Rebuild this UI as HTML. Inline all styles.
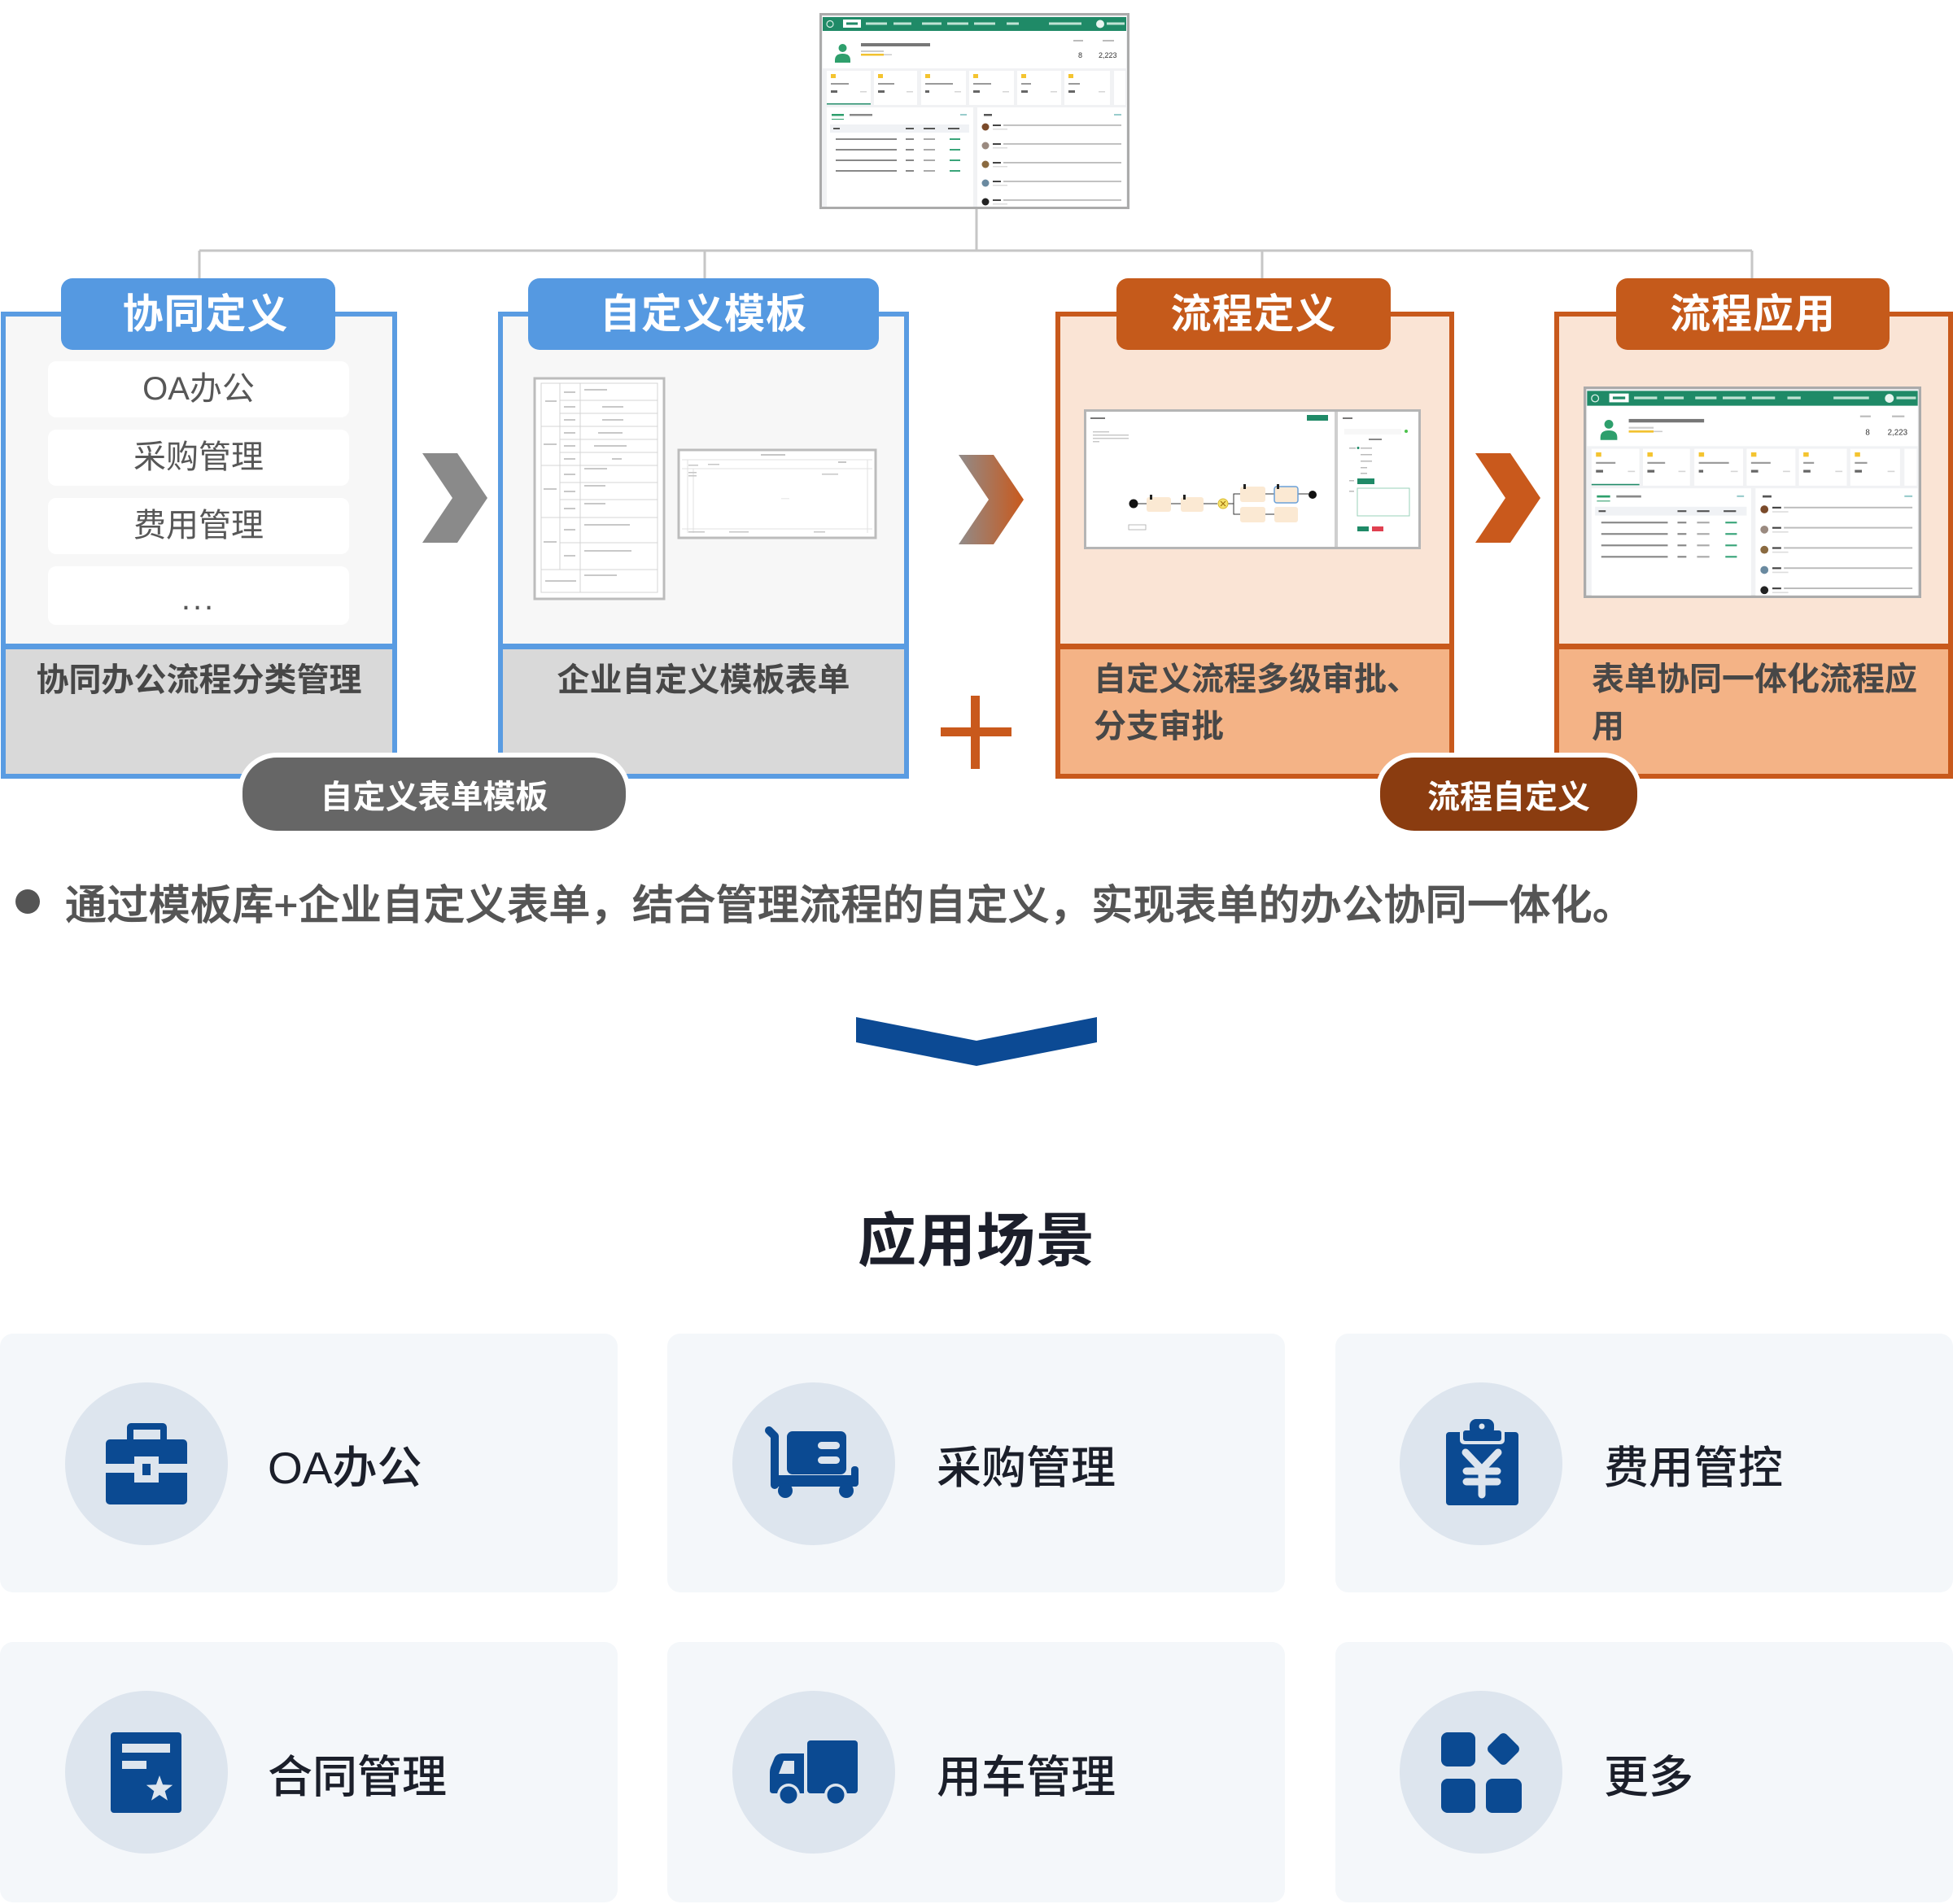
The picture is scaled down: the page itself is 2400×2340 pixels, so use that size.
<!DOCTYPE html>
<html><head><meta charset="utf-8">
<style>
*{margin:0;padding:0;box-sizing:border-box}
html,body{width:2400px;height:2340px;background:#fff;overflow:hidden}
body{position:relative;font-family:"Liberation Sans","Noto Sans CJK SC",sans-serif}
.box{position:absolute;top:383px;height:574px;border:6px solid}
.blue{border-color:#5a9ce2;background:#d9d9d9}
.org{border-color:#c8591c;background:#f4b386}
.up{position:absolute;left:0;right:0;top:0;height:409px;border-bottom:7px solid}
.blue .up{background:#f7f7f7;border-color:#5a9ce2}
.org .up{background:#fae4d5;border-color:#c8591c}
.tab{position:absolute;top:342px;height:88px;border-radius:14px;color:#fff;font-weight:bold;font-size:50px;line-height:88px;text-align:center;letter-spacing:1px}
.tb{background:#5599e1}
.to{background:#c55a1b}
.btxt{position:absolute;font-size:40px;font-weight:bold;color:#474747;line-height:58px;white-space:nowrap}
.item{position:absolute;left:59px;width:370px;height:69px;background:#fff;border-radius:10px;text-align:center;font-size:40px;line-height:69px;color:#575757}
.pill{position:absolute;top:925px;height:102px;border:6px solid #fff;border-radius:48px;color:#fff;font-weight:bold;font-size:40px;line-height:98px;text-align:center}
.card{position:absolute;height:318px;width:759px;background:#f4f7fa;border-radius:16px}
.ctxt{position:absolute;font-size:55px;font-weight:500;color:#1b1f2a;line-height:80px;white-space:nowrap}
svg.ov{position:absolute;left:0;top:0}
</style></head><body>

<!-- boxes -->
<div class="box blue" style="left:1px;width:487px"><div class="up"></div></div>
<div class="box blue" style="left:612px;width:505px"><div class="up"></div></div>
<div class="box org" style="left:1297px;width:490px"><div class="up"></div></div>
<div class="box org" style="left:1910px;width:490px"><div class="up"></div></div>

<!-- list items box1 -->
<div class="item" style="top:444px">OA办公</div>
<div class="item" style="top:528px">采购管理</div>
<div class="item" style="top:612px">费用管理</div>
<div class="item" style="top:696px;height:72px;line-height:80px;letter-spacing:3px">...</div>

<!-- cards -->
<div class="card" style="left:0;top:1639px"></div>
<div class="card" style="left:820px;top:1639px"></div>
<div class="card" style="left:1641px;top:1639px"></div>
<div class="card" style="left:0;top:2018px;height:320px"></div>
<div class="card" style="left:820px;top:2018px;height:320px"></div>
<div class="card" style="left:1641px;top:2018px;height:320px"></div>

<svg class="ov" width="2400" height="2340" viewBox="0 0 2400 2340" xmlns="http://www.w3.org/2000/svg">
<defs>
<linearGradient id="g1" x1="0" x2="1" y1="0" y2="0">
<stop offset="0" stop-color="#918b89"/><stop offset="1" stop-color="#c9591c"/>
</linearGradient>
<symbol id="dash" viewBox="0 0 381 241" preserveAspectRatio="none">
<rect x="1.5" y="1.5" width="378" height="238" fill="#f1f2f4" stroke="#ababab" stroke-width="3"/>
<rect x="4" y="5" width="373" height="17" fill="#1f8a67"/>
<circle cx="13" cy="13.5" r="4" fill="none" stroke="#d8efe6" stroke-width="1.2"/>
<rect x="29" y="8" width="22" height="10" fill="#fff"/>
<rect x="33" y="11.5" width="14" height="3" fill="#1f8a67"/>
<g fill="#bfe3d4">
<rect x="57" y="11.5" width="26" height="3"/><rect x="91" y="11.5" width="22" height="3"/>
<rect x="126" y="11.5" width="24" height="3"/><rect x="157" y="11.5" width="26" height="3"/>
<rect x="190" y="11.5" width="26" height="3"/><rect x="230" y="11.5" width="15" height="3"/>
<rect x="282" y="11.5" width="40" height="3"/><rect x="353" y="11.5" width="22" height="3"/>
</g>
<circle cx="345" cy="13.5" r="5" fill="#e9f5f0"/>
<rect x="4" y="22" width="373" height="46" fill="#fff"/>
<circle cx="28.5" cy="43" r="5" fill="#2e9f6c"/>
<path d="M19 58 q0-8 9.5-8 q9.5 0 9.5 8 v3 h-19z" fill="#2e9f6c"/>
<rect x="51" y="37" width="85" height="4" fill="#777"/>
<rect x="51" y="46" width="28" height="2" fill="#ccc"/>
<rect x="51" y="50" width="28" height="2.5" fill="#f2c230"/>
<rect x="79" y="50.5" width="10" height="1.5" fill="#ccc"/>
<rect x="312" y="33" width="12" height="2" fill="#bbb"/><rect x="348" y="33" width="14" height="2" fill="#bbb"/>
<text x="318" y="55" font-size="9" fill="#333" font-family="Liberation Sans">8</text>
<text x="343" y="55" font-size="9" fill="#333" font-family="Liberation Sans">2,223</text>
<g>
<rect x="9" y="71" width="54" height="42" fill="#fff"/><rect x="67" y="71" width="53" height="42" fill="#fff"/>
<rect x="125" y="71" width="55" height="42" fill="#fff"/><rect x="184" y="71" width="55" height="42" fill="#fff"/>
<rect x="243" y="71" width="54" height="42" fill="#fff"/><rect x="301" y="71" width="56" height="42" fill="#fff"/>
<rect x="362" y="71" width="14" height="42" fill="#fff"/>
</g>
<g fill="#f4c430">
<rect x="14" y="75" width="6" height="5"/><rect x="72" y="75" width="6" height="5"/><rect x="130" y="75" width="6" height="5"/>
<rect x="189" y="75" width="6" height="5"/><rect x="248" y="75" width="6" height="5"/><rect x="306" y="75" width="6" height="5"/>
</g>
<g fill="#999">
<rect x="14" y="86" width="22" height="2"/><rect x="72" y="86" width="20" height="2"/><rect x="130" y="86" width="34" height="2"/>
<rect x="189" y="86" width="22" height="2"/><rect x="248" y="86" width="12" height="2"/><rect x="306" y="86" width="14" height="2"/>
</g>
<g fill="#666">
<rect x="14" y="95" width="8" height="3"/><rect x="72" y="95" width="8" height="3"/><rect x="130" y="95" width="5" height="3"/>
<rect x="189" y="95" width="8" height="3"/><rect x="248" y="95" width="8" height="3"/><rect x="306" y="95" width="8" height="3"/>
</g>
<g fill="#d5d5d5">
<rect x="50" y="96" width="8" height="1.5"/><rect x="107" y="96" width="8" height="1.5"/><rect x="166" y="96" width="8" height="1.5"/>
<rect x="225" y="96" width="8" height="1.5"/><rect x="284" y="96" width="8" height="1.5"/><rect x="343" y="96" width="8" height="1.5"/>
</g>
<rect x="9" y="111" width="54" height="1.5" fill="#1f8a67"/>
<rect x="9" y="116" width="180" height="122" fill="#fff"/>
<rect x="194" y="116" width="183" height="122" fill="#fff"/>
<rect x="15" y="124" width="15" height="2.5" fill="#2e9f6c"/>
<rect x="37" y="124" width="28" height="2.5" fill="#888"/>
<rect x="15" y="130" width="15" height="1" fill="#2e9f6c"/>
<rect x="173" y="124" width="8" height="2" fill="#9cc"/>
<rect x="13" y="137" width="171" height="10" fill="#f0f2f5"/>
<g fill="#555"><rect x="17" y="141" width="8" height="2"/><rect x="106" y="141" width="10" height="2"/><rect x="128" y="141" width="14" height="2"/><rect x="158" y="141" width="14" height="2"/></g>
<g fill="#888">
<rect x="20" y="154" width="75" height="2"/><rect x="106" y="154" width="10" height="2"/><rect x="128" y="154" width="14" height="2" fill="#aaa"/><rect x="160" y="154" width="13" height="2" fill="#3aa57a"/>
<rect x="20" y="167" width="75" height="2"/><rect x="106" y="167" width="10" height="2"/><rect x="128" y="167" width="14" height="2" fill="#aaa"/><rect x="160" y="167" width="13" height="2" fill="#3aa57a"/>
<rect x="20" y="180" width="75" height="2"/><rect x="106" y="180" width="10" height="2"/><rect x="128" y="180" width="14" height="2" fill="#aaa"/><rect x="160" y="180" width="13" height="2" fill="#3aa57a"/>
<rect x="20" y="193" width="75" height="2"/><rect x="106" y="193" width="10" height="2"/><rect x="128" y="193" width="14" height="2" fill="#aaa"/><rect x="160" y="193" width="13" height="2" fill="#3aa57a"/>
</g>
<rect x="202" y="124" width="10" height="2.5" fill="#555"/>
<rect x="362" y="124" width="9" height="2" fill="#9cc"/>
<circle cx="204" cy="140" r="4.5" fill="#7a4a2a"/><circle cx="204" cy="163" r="4.5" fill="#9a8a80"/>
<circle cx="204" cy="186" r="4.5" fill="#8a6a40"/><circle cx="204" cy="209" r="4.5" fill="#6a8aa0"/>
<circle cx="204" cy="232" r="4.5" fill="#222"/>
<g fill="#444"><rect x="213" y="137" width="10" height="2"/><rect x="213" y="160" width="10" height="2"/><rect x="213" y="183" width="10" height="2"/><rect x="213" y="206" width="10" height="2"/><rect x="213" y="229" width="10" height="2"/></g>
<g fill="#bbb"><rect x="226" y="137" width="145" height="1.8"/><rect x="226" y="160" width="145" height="1.8"/><rect x="226" y="183" width="145" height="1.8"/><rect x="226" y="206" width="145" height="1.8"/><rect x="226" y="229" width="145" height="1.8"/></g>
<g fill="#ddd"><rect x="213" y="142" width="18" height="1.5"/><rect x="213" y="165" width="18" height="1.5"/><rect x="213" y="188" width="18" height="1.5"/><rect x="213" y="211" width="18" height="1.5"/><rect x="213" y="234" width="18" height="1.5"/></g>
</symbol>
</defs>

<!-- connectors -->
<path d="M1200,257 V308 M245,308 H2153 M245,308 V342 M866,308 V342 M1551,308 V342 M2153,308 V342" stroke="#c6c6c6" stroke-width="3" fill="none"/>

<!-- top screenshot -->
<use href="#dash" x="1007" y="16" width="381" height="241"/>
<!-- box4 screenshot -->
<use href="#dash" x="1946" y="475" width="415" height="260"/>

<!-- chevrons -->
<polygon points="519,557 562,557 599,612 562,667 519,667 556,612" fill="#8a8a8a"/>
<polygon points="1178,559 1221,559 1258,614 1221,669 1178,669 1215,614" fill="url(#g1)"/>
<polygon points="1813,557 1856,557 1893,612 1856,667 1813,667 1850,612" fill="#c9591c"/>

<!-- plus -->
<rect x="1193" y="855" width="11" height="90" fill="#c9591c"/>
<rect x="1156" y="894" width="87" height="11" fill="#c9591c"/>

<!-- form1 -->
<rect x="657" y="465" width="159" height="271" fill="#fff" stroke="#bcbcbc" stroke-width="3"/>
<g stroke="#d4d4d4" stroke-width="1" fill="none">
<rect x="665" y="471" width="143" height="257"/>
<path d="M688,471 V700 M713,471 V728"/>
<path d="M688,492 H808 M688,508 H808 M688,540 H808 M688,556 H808 M688,593 H808 M688,614 H808 M688,667 H808"/>
<path d="M665,524 H808 M665,572 H808 M665,636 H808 M665,700 H808"/>
</g>
<g fill="#c8c8c8">
<rect x="693" y="481" width="14" height="2"/><rect x="718" y="478" width="28" height="2"/>
<rect x="693" y="499" width="14" height="2"/><rect x="740" y="499" width="26" height="2"/>
<rect x="693" y="515" width="14" height="2"/><rect x="740" y="515" width="26" height="2"/>
<rect x="693" y="531" width="14" height="2"/><rect x="735" y="531" width="30" height="2"/>
<rect x="693" y="547" width="14" height="2"/><rect x="730" y="547" width="40" height="2"/>
<rect x="693" y="563" width="14" height="2"/><rect x="752" y="563" width="12" height="2"/>
<rect x="693" y="582" width="14" height="2"/><rect x="718" y="575" width="28" height="2"/>
<rect x="693" y="603" width="14" height="2"/><rect x="718" y="596" width="26" height="2"/>
<rect x="693" y="624" width="14" height="2"/><rect x="718" y="618" width="26" height="2"/>
<rect x="693" y="650" width="14" height="2"/><rect x="718" y="644" width="56" height="2"/>
<rect x="693" y="682" width="14" height="2"/><rect x="718" y="676" width="58" height="2"/>
<rect x="670" y="492" width="14" height="2"/><rect x="668" y="545" width="16" height="2"/><rect x="668" y="600" width="16" height="2"/><rect x="668" y="665" width="16" height="2"/>
<rect x="670" y="713" width="38" height="2"/><rect x="718" y="706" width="40" height="2"/>
</g>
<!-- form2 -->
<rect x="834" y="553" width="242" height="108" fill="#fff" stroke="#bcbcbc" stroke-width="3"/>
<g stroke="#e2e2e2" stroke-width="1" fill="none">
<path d="M838,565 H1072 M838,576 H1072 M838,650 H1072 M845,565 V655 M852,576 V655 M1066,565 V655"/>
</g>
<g fill="#c6c6c6">
<rect x="935" y="558" width="30" height="2"/><rect x="1030" y="567" width="10" height="2"/>
<rect x="846" y="571" width="12" height="1.5"/><rect x="870" y="570" width="14" height="1.5"/>
<rect x="846" y="580" width="10" height="1.5"/><rect x="846" y="584" width="10" height="1.5"/>
<rect x="1010" y="582" width="20" height="1.5"/><rect x="960" y="612" width="10" height="1.5" fill="#ececec"/>
<rect x="846" y="653" width="20" height="1.5"/><rect x="896" y="653" width="24" height="1.5"/><rect x="1000" y="653" width="14" height="1.5"/>
</g>

<!-- flow image -->
<g transform="translate(1332,503)">
<rect x="1.5" y="1.5" width="411" height="169" fill="#fff" stroke="#b5b5b5" stroke-width="3"/>
<rect x="308" y="3" width="4" height="166" fill="#cfcfcf"/>
<rect x="8" y="10" width="18" height="2" fill="#777"/>
<rect x="274" y="7" width="26" height="7" fill="#1f8a67"/>
<g fill="#c8c8c8"><rect x="11" y="27" width="20" height="1.5"/><rect x="11" y="31" width="44" height="1.5"/><rect x="11" y="35" width="44" height="1.5"/><rect x="11" y="39" width="8" height="1.5"/></g>
<g stroke="#333" stroke-width="1" fill="none">
<path d="M66,116 H77 M107,116 H119 M147,116 H164 M177,116 H184 V104 H192 M184,116 V129 H192 M223,104 H234 M263,104 H276 M223,129 H234"/>
</g>
<circle cx="61" cy="116" r="5.5" fill="#111"/>
<rect x="77" y="108" width="30" height="18" rx="3" fill="#fbe9d3"/>
<rect x="119" y="108" width="28" height="18" rx="3" fill="#fbe9d3"/>
<circle cx="171" cy="116" r="6" fill="#f6e36a" stroke="#d8b830"/>
<path d="M168,113 l6,6 M174,113 l-6,6" stroke="#a07010" stroke-width="1.2"/>
<rect x="192" y="95" width="31" height="19" rx="3" fill="#fbe9d3"/>
<rect x="234" y="95" width="29" height="20" rx="3" fill="#fbe9d3" stroke="#6aa0d8" stroke-width="1.5"/>
<rect x="192" y="120" width="31" height="19" rx="3" fill="#fbe9d3"/>
<rect x="234" y="120" width="29" height="19" rx="3" fill="#fbe9d3"/>
<circle cx="281" cy="105" r="5" fill="#111"/>
<g fill="#222"><rect x="81" y="105" width="3" height="6"/><rect x="122" y="105" width="3" height="6"/><rect x="196" y="92" width="3" height="6"/><rect x="237" y="92" width="3" height="6"/></g>
<rect x="55" y="142" width="21" height="6" fill="#fff" stroke="#aaa" stroke-width="0.8"/>
<rect x="318" y="10" width="12" height="2" fill="#777"/>
<rect x="320" y="24" width="70" height="7" fill="#f7f7f7"/>
<circle cx="396" cy="27" r="2" fill="#4cc24c"/>
<rect x="350" y="36" width="16" height="2" fill="#888"/>
<g fill="#bbb"><rect x="326" y="47" width="8" height="1.5"/><rect x="340" y="47" width="14" height="1.5"/><rect x="340" y="55" width="14" height="1.5"/><rect x="340" y="63" width="14" height="1.5"/><rect x="340" y="71" width="8" height="1.5"/><rect x="340" y="78" width="8" height="1.5"/><rect x="326" y="87" width="6" height="1.5"/><rect x="326" y="100" width="6" height="1.5"/></g>
<circle cx="337" cy="47.5" r="1.5" fill="#1f8a67"/>
<rect x="336" y="85" width="21" height="7" fill="#1f8a67"/>
<rect x="336" y="97" width="64" height="34" fill="#fff" stroke="#9ad0b8" stroke-width="1"/>
<rect x="336" y="144" width="14" height="6" fill="#1f8a67"/>
<rect x="354" y="144" width="14" height="6" fill="#e04050"/>
</g>

<!-- chevron down -->
<polygon points="1052,1250 1200,1279 1348,1250 1348,1281 1200,1310 1052,1281" fill="#0c4a94"/>

<!-- bullet -->
<circle cx="34" cy="1108" r="15" fill="#555"/>

<!-- icon circles -->
<g fill="#dde5ee">
<circle cx="180" cy="1799" r="100"/><circle cx="1000" cy="1799" r="100"/><circle cx="1820" cy="1799" r="100"/>
<circle cx="180" cy="2178" r="100"/><circle cx="1000" cy="2178" r="100"/><circle cx="1820" cy="2178" r="100"/>
</g>

<!-- briefcase -->
<rect x="156" y="1749" width="49" height="26" rx="5" fill="#0b4a92"/>
<rect x="164" y="1757" width="33" height="12" fill="#dde5ee"/>
<rect x="130" y="1769" width="100" height="80" rx="5" fill="#0b4a92"/>
<rect x="130" y="1799" width="100" height="11" fill="#dde5ee"/>
<rect x="165" y="1790" width="30" height="32" fill="#dde5ee"/>
<rect x="175" y="1799" width="10" height="14" fill="#0b4a92"/>

<!-- cart -->
<path d="M945,1758 L952,1765 L952,1825" stroke="#0b4a92" stroke-width="10" fill="none" stroke-linecap="round" stroke-linejoin="round"/>
<rect x="967" y="1759" width="73" height="53" rx="7" fill="#0b4a92"/>
<rect x="1005" y="1772" width="27" height="9" rx="4.5" fill="#dde5ee"/>
<rect x="1005" y="1790" width="27" height="9" rx="4.5" fill="#dde5ee"/>
<rect x="948" y="1813" width="106" height="14" rx="3" fill="#0b4a92"/>
<rect x="1046" y="1802" width="9" height="25" rx="4" fill="#0b4a92"/>
<circle cx="965" cy="1832" r="9" fill="#0b4a92"/>
<circle cx="1040" cy="1832" r="9" fill="#0b4a92"/>

<!-- clipboard yen -->
<rect x="1777" y="1760" width="89" height="90" rx="4" fill="#0b4a92"/>
<rect x="1794" y="1755" width="55" height="20" rx="5" fill="#dde5ee"/>
<rect x="1798" y="1758" width="47" height="13" rx="3" fill="#0b4a92"/>
<rect x="1806" y="1744" width="30" height="20" rx="8" fill="#0b4a92"/>
<circle cx="1821" cy="1753" r="3.5" fill="#dde5ee"/>
<path d="M1801,1785 L1821,1806 L1841,1785 M1802,1808 H1840 M1802,1821 H1840 M1821,1806 V1837" stroke="#dde5ee" stroke-width="9" fill="none" stroke-linecap="round" stroke-linejoin="round"/>

<!-- contract -->
<rect x="136" y="2129" width="87" height="99" rx="4" fill="#0b4a92"/>
<rect x="150" y="2143" width="59" height="11" fill="#dde5ee"/>
<rect x="150" y="2164" width="30" height="10" fill="#dde5ee"/>
<polygon points="196,2182 200.1,2193.3 212.2,2193.7 202.7,2201.2 206,2212.8 196,2206 186,2212.8 189.3,2201.2 179.8,2193.7 191.9,2193.3" fill="#dde5ee"/>

<!-- truck -->
<rect x="992" y="2139" width="62" height="65" rx="4" fill="#0b4a92"/>
<path d="M988,2155 L961,2155 Q955,2155 952,2160 L947,2172 Q946,2175 946,2178 L946,2200 Q946,2204 950,2204 L988,2204 Z" fill="#0b4a92"/>
<path d="M976,2164 L963,2164 L957,2180 L976,2180 Z" fill="#dde5ee"/>
<circle cx="969" cy="2206" r="14" fill="#dde5ee"/>
<circle cx="969" cy="2206" r="10.5" fill="#0b4a92"/>
<circle cx="1027" cy="2206" r="14" fill="#dde5ee"/>
<circle cx="1027" cy="2206" r="10.5" fill="#0b4a92"/>

<!-- more -->
<rect x="1771" y="2129" width="42" height="42" rx="8" fill="#0b4a92"/>
<rect x="1771" y="2186" width="42" height="42" rx="8" fill="#0b4a92"/>
<rect x="1826" y="2186" width="44" height="42" rx="8" fill="#0b4a92"/>
<rect x="1832" y="2134" width="31" height="31" rx="6" fill="#0b4a92" transform="rotate(45 1847.5 2149.5)"/>
</svg>

<!-- tabs -->
<div class="tab tb" style="left:75px;width:337px;padding-left:18px">协同定义</div>
<div class="tab tb" style="left:649px;width:431px">自定义模板</div>
<div class="tab to" style="left:1372px;width:337px">流程定义</div>
<div class="tab to" style="left:1986px;width:336px">流程应用</div>

<!-- box lower texts -->
<div class="btxt" style="left:1px;width:487px;top:807px;text-align:center">协同办公流程分类管理</div>
<div class="btxt" style="left:612px;width:505px;top:807px;text-align:center">企业自定义模板表单</div>
<div class="btxt" style="left:1344px;top:806px">自定义流程多级审批、<br>分支审批</div>
<div class="btxt" style="left:1956px;top:806px">表单协同一体化流程应<br>用</div>

<!-- pills -->
<div class="pill" style="left:292px;width:483px;background:#666">自定义表单模板</div>
<div class="pill" style="left:1690px;width:328px;background:#8a3c10">流程自定义</div>

<!-- bullet text -->
<div style="position:absolute;left:80px;top:1078px;font-size:51px;line-height:70px;color:#555;font-weight:500;white-space:nowrap;-webkit-text-stroke:0.8px #555;letter-spacing:0.3px">通过模板库+企业自定义表单，结合管理流程的自定义，实现表单的办公协同一体化。</div>

<!-- title -->
<div style="position:absolute;left:900px;width:600px;top:1476px;text-align:center;font-size:72px;line-height:100px;font-weight:bold;color:#1c1f2b;letter-spacing:1px">应用场景</div>

<!-- card texts -->
<div class="ctxt" style="left:329px;top:1764px">OA办公</div>
<div class="ctxt" style="left:1151px;top:1764px">采购管理</div>
<div class="ctxt" style="left:1971px;top:1764px">费用管控</div>
<div class="ctxt" style="left:329px;top:2144px">合同管理</div>
<div class="ctxt" style="left:1151px;top:2144px">用车管理</div>
<div class="ctxt" style="left:1971px;top:2144px">更多</div>

</body></html>
